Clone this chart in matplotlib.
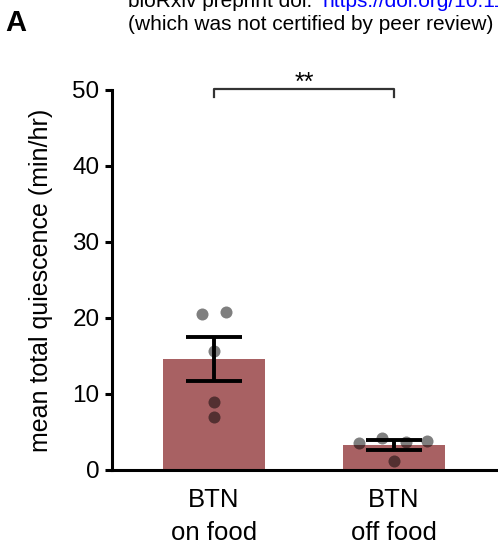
import numpy as np
import matplotlib
matplotlib.use("Agg")
import matplotlib.pyplot as plt

plt.rcParams['font.family'] = ['Liberation Sans', 'DejaVu Sans']

# mean total quiescence per animal (min/hr)
groups = ['BTN\non food', 'BTN\noff food']
on_food = [20.5, 20.8, 15.7, 8.9, 7.0]
off_food = [3.55, 4.2, 3.7, 3.8, 1.2]
sem = [2.9, 0.6]

# horizontal spread of the points inside each bar
spread = [[-0.065, 0.065, 0.0, 0.0, 0.0],
          [-0.195, -0.065, 0.065, 0.185, 0.0]]

bar_color = '#a86163'

fig = plt.figure(figsize=(4.98, 5.5), dpi=100)
ax = fig.add_axes([0.225, 0.1455, 0.775, 0.6910])

values = [on_food, off_food]
means = [np.mean(v) for v in values]
x = np.arange(len(groups))

ax.bar(x, means, width=0.57, color=bar_color, zorder=1)
for i, v in enumerate(values):
    ax.scatter(x[i] + np.array(spread[i]), v, s=75, color='black',
               alpha=0.5, linewidths=0, zorder=3)
ax.errorbar(x, means, yerr=sem, fmt='none', ecolor='black', elinewidth=2.8,
            capsize=20, capthick=2.8, zorder=4)

ax.set_xlim(-0.567, 1.578)
ax.set_ylim(0, 50)
ax.set_yticks([0, 10, 20, 30, 40, 50])
ax.set_xticks(x)
ax.set_xticklabels(groups, fontsize=18.5, linespacing=1.45)
ax.tick_params(axis='y', labelsize=17.5, width=2.2, length=5, pad=4)
ax.tick_params(axis='x', length=0, pad=13)
ax.set_ylabel('mean total quiescence (min/hr)', fontsize=18, labelpad=14)
for side in ['top', 'right']:
    ax.spines[side].set_visible(False)
for side in ['left', 'bottom']:
    ax.spines[side].set_linewidth(2.2)

# significance bracket
yb = 50.1
ax.plot([x[0], x[0], x[1], x[1]], [yb - 1.0, yb, yb, yb - 1.0], color='#333333',
        lw=1.6, clip_on=False)
ax.text((x[0] + x[1]) / 2, yb - 0.8, '**', ha='center', va='bottom', fontsize=18)

fig.text(0.010, 0.958, 'A', fontsize=21, fontweight='bold', ha='left', va='center')
fig.text(0.257, 0.997, 'bioRxiv preprint doi: ', fontsize=15, ha='left', va='center')
fig.text(0.647, 0.997, 'https://doi.org/10.1101', fontsize=15, ha='left',
         va='center', color='blue')
fig.text(0.257, 0.956, '(which was not certified by peer review)', fontsize=15,
         ha='left', va='center')

fig.savefig('out.png', dpi=100)
